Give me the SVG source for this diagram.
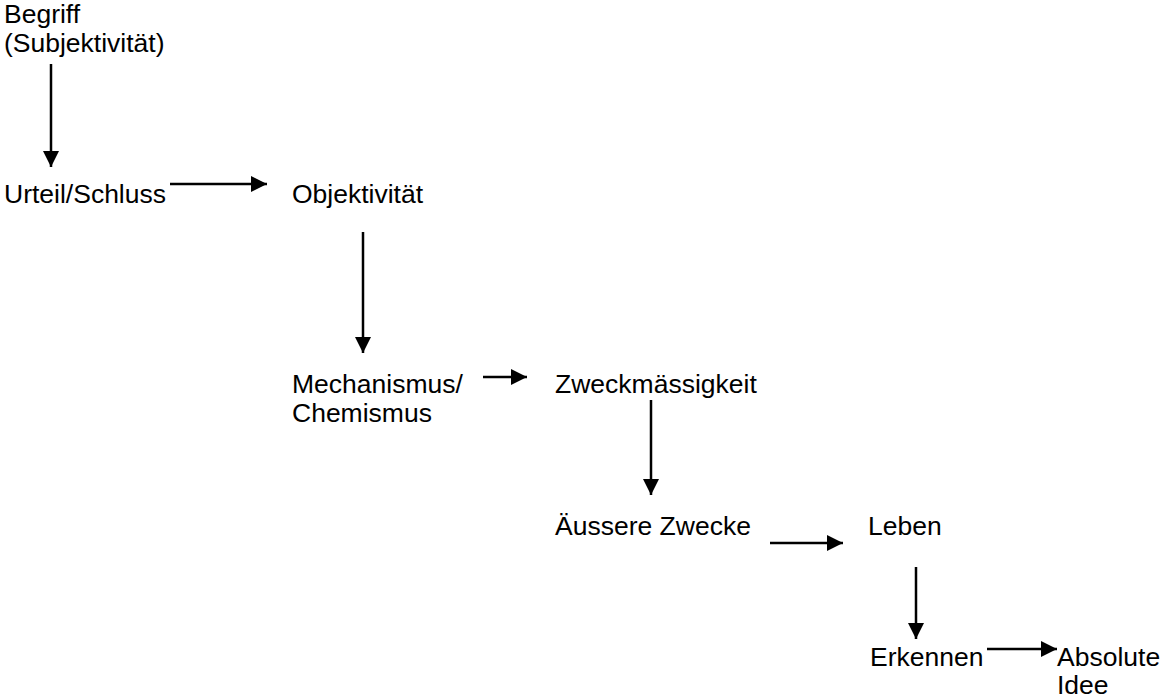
<svg xmlns="http://www.w3.org/2000/svg" width="1164" height="699" viewBox="0 0 1164 699">
<style>
text{font-family:"Liberation Sans",Arial,sans-serif;font-size:26.5px;fill:#000}
.c line{stroke:#000;stroke-width:2.5;fill:none}
</style>
<defs>
<marker id="ah" markerUnits="userSpaceOnUse" markerWidth="17" markerHeight="17" viewBox="0 0 17 17" refX="16" refY="8.5" orient="auto">
<path d="M0,0.5 L16,8.5 L0,16.5 Z" fill="#000"/>
</marker>
</defs>
<rect width="1164" height="699" fill="#fff"/>
<g id="n-begriff"><text x="4" y="23">Begriff</text><text x="4" y="52">(Subjektivität)</text></g>
<g id="n-urteil"><text x="4" y="203">Urteil/Schluss</text></g>
<g id="n-objektivitaet"><text x="292" y="203">Objektivität</text></g>
<g id="n-mechanismus"><text x="292" y="393">Mechanismus/</text><text x="292" y="422">Chemismus</text></g>
<g id="n-zweck"><text x="555" y="393">Zweckmässigkeit</text></g>
<g id="n-aeussere"><text x="555" y="535">Äussere Zwecke</text></g>
<g id="n-leben"><text x="868" y="535">Leben</text></g>
<g id="n-erkennen"><text x="870" y="666">Erkennen</text></g>
<g id="n-absolute"><text x="1057" y="666">Absolute</text><text x="1057" y="694">Idee</text></g>
<g id="connectors" class="c">
<line x1="51" y1="64" x2="51" y2="167" marker-end="url(#ah)"/>
<line x1="170" y1="184" x2="267" y2="184" marker-end="url(#ah)"/>
<line x1="363" y1="232" x2="363" y2="353" marker-end="url(#ah)"/>
<line x1="483" y1="377" x2="527" y2="377" marker-end="url(#ah)"/>
<line x1="651" y1="400" x2="651" y2="495" marker-end="url(#ah)"/>
<line x1="770" y1="543" x2="843" y2="543" marker-end="url(#ah)"/>
<line x1="916" y1="567" x2="916" y2="639" marker-end="url(#ah)"/>
<line x1="987" y1="649" x2="1057" y2="649" marker-end="url(#ah)"/>
</g>
</svg>
